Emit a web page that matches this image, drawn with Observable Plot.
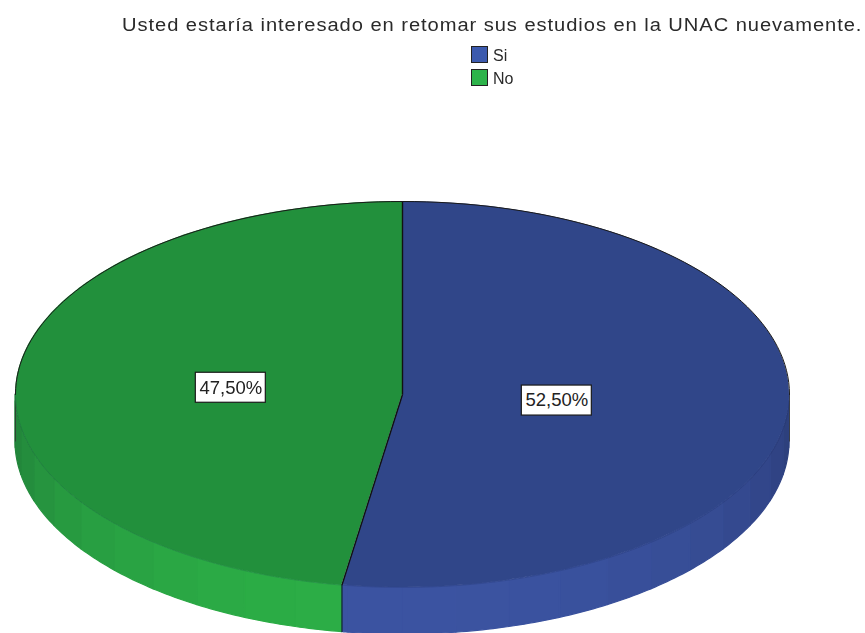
<!DOCTYPE html>
<html>
<head>
<meta charset="utf-8">
<script src="https://cdn.jsdelivr.net/npm/d3@7"></script>
<script src="https://cdn.jsdelivr.net/npm/@observablehq/plot@0.6"></script>
<style>
  html, body { margin: 0; padding: 0; background: #fff; overflow: hidden; }
  #page { width: 865px; font-family: "Liberation Sans", Arial, sans-serif; color: #2a2a2a; }
  #head { position: relative; height: 100px; filter: blur(0.35px); }
  #title { position: absolute; left: 122px; top: 15px; font-size: 17.5px; letter-spacing: 0.82px; white-space: nowrap; transform: scaleX(1.15); transform-origin: left center; }
  .key { position: absolute; left: 471px; font-size: 16px; line-height: 20px; white-space: nowrap; }
  .key i { display: inline-block; width: 15px; height: 15px; border: 1px solid #222; vertical-align: -2px; margin-right: 5px; }
  #chart svg { display: block; filter: blur(0.3px); }
</style>
</head>
<body>
<div id="page">
  <div id="head">
    <div id="title"></div>
    <div id="legend"></div>
  </div>
  <div id="chart"></div>
</div>
<script>
const titleText = "Usted estaría interesado en retomar sus estudios en la UNAC nuevamente.";
const categories = ["Si", "No"];
const percents = [52.5, 47.5];
const labels = ["52,50%", "47,50%"];
const legendColors = ["#3c5aae", "#2db34a"];
const topColors = ["#304689", "#22903c"];
const wallBright = ["#3b53a1", "#2cae46"];
const wallDark = ["#2b3d78", "#218039"];
const labelRadius = [0.40, 0.445];

document.getElementById("title").textContent = titleText;
document.getElementById("legend").innerHTML = categories.map((c, i) =>
  `<div class="key" style="top:${46 + i * 23}px"><i style="background:${legendColors[i]}"></i>${c}</div>`).join("");

// Unit-disc coordinates: x = sin(angle), y = -cos(angle), y grows downward.
const W = 865, H = 533, headH = 100;
const cxPx = 402, cyPx = 394 - headH, rx = 387, ry = 193;
const depth = 47 / ry;
const rad = d => d * Math.PI / 180;
const px = a => Math.sin(rad(a));
const py = a => -Math.cos(rad(a));

// slices run clockwise from 12 o'clock
let acc = 0;
const slices = categories.map((c, i) => {
  const start = acc; acc += percents[i] * 3.6;
  return {c, i, start, end: acc, mid: (start + acc) / 2};
});
const arcAngles = (a0, a1) => d3.range(0, 101).map(k => a0 + (a1 - a0) * k / 100);

const topRows = slices.flatMap(s => arcAngles(s.start, s.end).map(a => ({
  x1: px(a), y1: py(a), x2: 0, y2: 0, fill: topColors[s.i]
})));

// Wall facets: 8 degree strips on the visible front half, measured from 6 o'clock
const wallRows = [];
const step = 8;
slices.forEach(s => {
  const a0 = Math.max(s.start, 90), a1 = Math.min(s.end, 270);
  let k = Math.floor((a0 - 180) / step);
  for (; 180 + k * step < a1; k++) {
    const b0 = Math.max(a0, 180 + k * step), b1 = Math.min(a1, 180 + (k + 1) * step);
    const midOff = Math.abs((b0 + b1) / 2 - 180) / 90;
    const fill = d3.interpolateRgb(wallBright[s.i], wallDark[s.i])(Math.pow(midOff, 2));
    const id = s.i + "-" + k;
    arcAngles(b0, b1).filter((_, n) => n % 10 === 0).forEach(a =>
      wallRows.push({id, x: px(a), y1: py(a), y2: py(a) + depth, fill}));
  }
});

const upperArc = arcAngles(-90, 90).map(a => ({x: px(a), y: py(a)}));
const lowerArc = slices.map(s => arcAngles(Math.max(s.start, 90), Math.min(s.end, 270))
  .map(a => ({x: px(a), y: py(a), s: s.i}))).flat();

const spokes = [0, slices[1].start].map(a => ({x1: 0, y1: 0, x2: px(a), y2: py(a)}));
const frontEdge = [{x1: px(slices[1].start), y1: py(slices[1].start), x2: px(slices[1].start), y2: py(slices[1].start) + depth}];
const sideEdges = [90, 270].map(a => ({x1: px(a), y1: py(a), x2: px(a), y2: py(a) + depth}));

const labelRows = slices.map(s => ({
  x: px(s.mid) * labelRadius[s.i], y: py(s.mid) * labelRadius[s.i], text: labels[s.i]
}));
const boxHalfW = 35 / rx, boxHalfH = 15 / ry;

const chart = Plot.plot({
  width: W, height: H,
  margin: 0,
  x: {domain: [-cxPx / rx, (W - cxPx) / rx], range: [0, W], axis: null},
  y: {domain: [-cyPx / ry, (H - cyPx) / ry], range: [0, H], axis: null},
  color: {type: "identity"},
  marks: [
    Plot.areaY(wallRows, {x: "x", y1: "y1", y2: "y2", z: "id", fill: "fill", stroke: "fill", strokeWidth: 1.2}),
    Plot.link(sideEdges, {x1: "x1", y1: "y1", x2: "x2", y2: "y2", stroke: "#333", strokeWidth: 0.8}),
    Plot.area(topRows, {x1: "x1", y1: "y1", x2: "x2", y2: "y2", z: "fill", fill: "fill"}),
    Plot.line(lowerArc, {x: "x", y: "y", z: "s", stroke: "#10204a", strokeOpacity: 0.2, strokeWidth: 0.8}),
    Plot.line(upperArc, {x: "x", y: "y", stroke: "#1a1a1a", strokeWidth: 1}),
    Plot.link(spokes, {x1: "x1", y1: "y1", x2: "x2", y2: "y2", stroke: "#111", strokeWidth: 1.4}),
    Plot.link(frontEdge, {x1: "x1", y1: "y1", x2: "x2", y2: "y2", stroke: "#123", strokeWidth: 1.2}),
    Plot.rect(labelRows, {
      x1: d => d.x - boxHalfW, x2: d => d.x + boxHalfW,
      y1: d => d.y - boxHalfH, y2: d => d.y + boxHalfH,
      fill: "#fff", stroke: "#1a1a1a", strokeWidth: 1.2
    }),
    Plot.text(labelRows, {x: "x", y: "y", text: "text", fontSize: 18.5, fontFamily: "Liberation Sans", fill: "#222"})
  ]
});
document.getElementById("chart").appendChild(chart);
</script>
</body>
</html>
